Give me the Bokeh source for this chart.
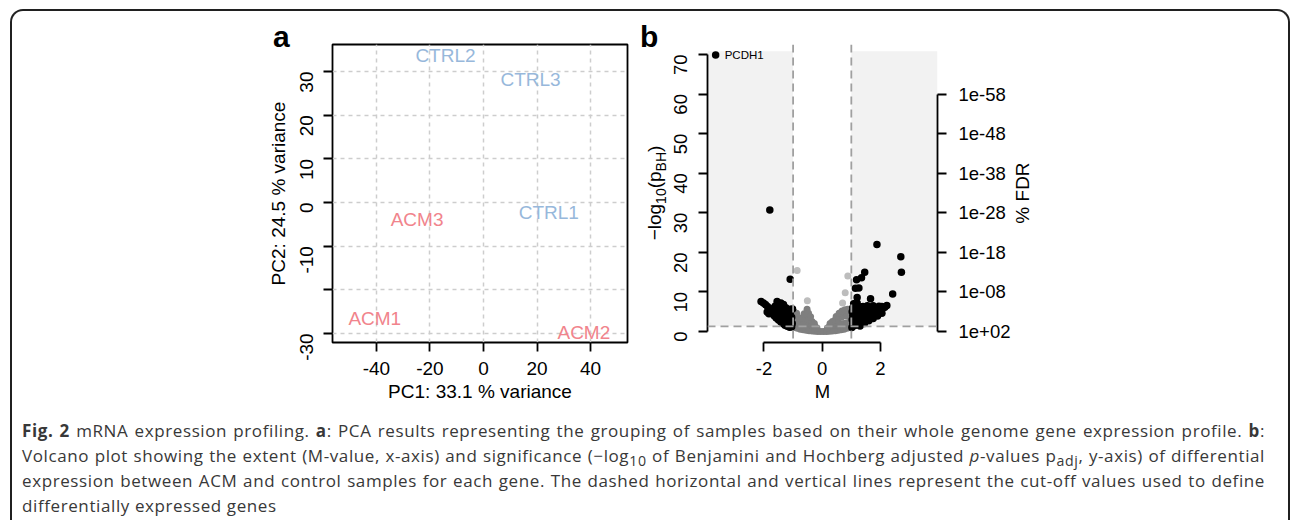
import math
from bokeh.plotting import figure
from bokeh.models import (ColumnDataSource, LinearAxis, FixedTicker, Span,
                          BoxAnnotation, Div)
from bokeh.layouts import row, column
from bokeh.embed import file_html
from bokeh.resources import INLINE
from bokeh.core.properties import value

# ---------------- data: panel a (PCA) ----------------
pca_samples = ["CTRL2", "CTRL3", "CTRL1", "ACM3", "ACM1", "ACM2"]
pca_group = ["CTRL", "CTRL", "CTRL", "ACM", "ACM", "ACM"]
pca_pc1 = [-14.2, 17.6, 24.4, -24.8, -40.6, 37.5]
pca_pc2 = [33.6, 28.1, -2.4, -3.9, -26.5, -29.9]
pca_x_ticks = [-40, -20, 0, 20, 40]
pca_y_ticks = [-30, -20, -10, 0, 10, 20, 30]
pca_y_hidden = [-20]          # label dropped by R (overlap)
pc1_var = 33.1
pc2_var = 24.5

# ---------------- data: panel b (volcano) ----------------
# differentially expressed genes (black)
de_m = [-3.66, -1.80, -1.10,
        -2.10, -2.02, -1.95, -1.88, -1.82, -1.76, -1.83, -1.72, -1.68, -1.62, -1.55,
        -1.50, -1.42, -1.33, -1.25, -1.10, -1.02, -1.65, -1.58, -1.50, -1.42, -1.35,
        -1.28, -1.20, -1.12, -1.05, -1.55, -1.45, -1.40, -1.35, -1.30, -1.25, -1.20,
        -1.18, -1.15, -1.10, -1.08, -1.05, -1.03, -1.50, -1.60, -1.45, -1.30, -1.15,
        -1.89,
        1.88, 2.70, 2.72, 1.46, 1.35, 1.18, 1.26, 1.14, 1.20, 1.66, 2.42, 2.22, 2.05,
        1.02, 1.05, 1.03, 1.05, 1.03, 1.05, 1.08, 1.12, 1.15, 1.15, 1.15, 1.15, 1.22,
        1.25, 1.25, 1.25, 1.30, 1.35, 1.35, 1.38, 1.45, 1.48, 1.50, 1.55, 1.60, 1.62,
        1.70, 1.72, 1.80, 1.85, 1.90, 1.95, 2.00, 2.08, 2.15, 1.75, 1.40, 1.55, 1.20,
        1.30, 1.45, 1.60, 1.75, 1.90, 2.05, 1.65, 1.85]
de_y = [69.9, 30.7, 13.2,
        7.6, 7.2, 6.8, 6.3, 5.8, 5.3, 4.5, 4.6, 5.8, 6.4, 7.6,
        6.9, 7.2, 6.8, 6.0, 5.6, 5.7, 4.0, 3.4, 2.9, 2.4, 2.0,
        1.6, 1.3, 1.1, 1.2, 5.0, 4.5, 5.5, 3.6, 4.6, 3.0, 5.0,
        2.2, 3.8, 4.6, 2.8, 3.6, 2.0, 6.0, 5.2, 3.4, 5.4, 1.8,
        4.9,
        22.0, 18.9, 15.0, 15.0, 13.6, 13.1, 11.0, 10.9, 8.6, 8.3, 9.5, 6.6, 6.3,
        1.0, 2.0, 3.0, 4.0, 5.0, 6.0, 7.0, 1.5, 2.6, 3.6, 4.6, 5.6, 2.0,
        3.1, 4.2, 5.3, 6.2, 2.6, 3.7, 4.8, 3.2, 4.3, 5.4, 3.6, 4.6, 5.7,
        4.1, 5.2, 4.5, 5.6, 5.0, 6.4, 5.3, 5.9, 6.1, 6.5, 6.3, 6.5, 7.2,
        1.4, 2.0, 2.7, 3.3, 3.9, 4.6, 3.5, 4.2]
# significant but small fold change (light grey)
mid_m = [-0.86, -0.51, 0.88, 0.79, 0.70]
mid_y = [15.4, 7.8, 14.0, 9.8, 7.2]
# not differentially expressed (grey)
ns_m = [-0.95, -0.85, -0.75, -0.65, -0.55, -0.45, -0.35, -0.25, -0.15, -0.05,
        0.05, 0.15, 0.25, 0.35, 0.45, 0.55, 0.65, 0.75, 0.85, 0.95,
        -0.95, -0.85, -0.75, -0.65, -0.55, -0.45, -0.35, -0.25, -0.18,
        0.18, 0.25, 0.35, 0.45, 0.55, 0.65, 0.75, 0.85, 0.95,
        -0.95, -0.85, -0.75, -0.65, -0.55, -0.45, -0.35, -0.27,
        0.27, 0.35, 0.45, 0.55, 0.65, 0.75, 0.85, 0.95,
        -0.97, -0.88, -0.62, -0.52, -0.47, -0.40,
        0.48, 0.58, 0.68, 0.78, 0.88, 0.96]
ns_y = [1.0, 0.8, 0.6, 0.45, 0.3, 0.2, 0.1, 0.05, 0.0, 0.0,
        0.0, 0.0, 0.05, 0.1, 0.2, 0.3, 0.45, 0.6, 0.8, 1.0,
        2.4, 2.2, 2.0, 1.9, 1.8, 1.7, 1.5, 1.3, 0.9,
        0.9, 1.3, 1.5, 1.7, 1.8, 1.9, 2.0, 2.2, 2.4,
        3.8, 3.6, 3.4, 3.3, 3.2, 3.0, 2.5, 2.0,
        2.0, 2.5, 3.0, 3.3, 3.6, 3.9, 4.0, 4.0,
        5.0, 4.6, 4.5, 5.6, 4.6, 3.7,
        3.8, 4.6, 5.2, 5.5, 5.6, 5.4]
top_gene = "PCDH1"
m_cutoff = 1.0
p_cutoff = 1.3          # -log10(0.05)
shade_top = 70.8
volc_x_ticks = [-2, 0, 2]
volc_y_ticks = [0, 10, 20, 30, 40, 50, 60, 70]
fdr_ticks = [0, 10, 20, 30, 40, 50, 60]
fdr_labels = ["1e+02", "1e-08", "1e-18", "1e-28", "1e-38", "1e-48", "1e-58"]

caption_lines = [
    "<b>Fig. 2</b> mRNA expression profiling. <b>a</b>: PCA results representing the grouping of samples based on their whole genome gene expression profile. <b>b</b>:",
    "Volcano plot showing the extent (M-value, x-axis) and significance (&minus;log<sub>10</sub> of Benjamini and Hochberg adjusted <i>p</i>-values p<sub>adj</sub>, y-axis) of differential",
    "expression between ACM and control samples for each gene. The dashed horizontal and vertical lines represent the cut-off values used to define",
    "differentially expressed genes",
]

FONT = "Liberation Sans"
COL = {"ACM": "#F1848C", "CTRL": "#97B8DB"}


def style_axis(ax, fs):
    ax.axis_line_color = "black"
    ax.axis_line_width = 1.8
    ax.major_tick_line_color = "black"
    ax.major_tick_line_width = 1.8
    ax.major_tick_out = 9
    ax.major_tick_in = 0
    ax.minor_tick_line_color = None
    ax.major_label_text_font = FONT
    ax.major_label_text_font_size = fs
    ax.major_label_text_color = "black"
    ax.axis_label_text_font = FONT
    ax.axis_label_text_font_size = fs
    ax.axis_label_text_font_style = "normal"
    ax.axis_label_text_color = "black"


def plain(ticks, hidden=()):
    return {t: ("" if t in hidden else str(t)) for t in ticks}


# ---------------- panel a ----------------
pa = figure(width=379, height=395, x_range=(-56.4, 53.8), y_range=(-32.1, 36.2),
            output_backend="svg", toolbar_location=None, margin=0,
            min_border_left=80, min_border_right=4, min_border_top=33, min_border_bottom=64,
            x_axis_label=f"PC1: {pc1_var} % variance",
            y_axis_label=f"PC2: {pc2_var} % variance")
pa.outline_line_color = "black"
pa.outline_line_width = 1.8
pa.xaxis.ticker = FixedTicker(ticks=pca_x_ticks)
pa.yaxis.ticker = FixedTicker(ticks=pca_y_ticks)
style_axis(pa.xaxis[0], "19px")
style_axis(pa.yaxis[0], "19px")
for ax in (pa.xaxis[0], pa.yaxis[0]):
    ax.axis_line_color = None
pa.xaxis.major_label_standoff = 10
pa.xaxis.axis_label_standoff = 3
pa.yaxis.major_label_standoff = 17
pa.yaxis.axis_label_standoff = 2
pa.xaxis.major_label_overrides = plain(pca_x_ticks)
pa.yaxis.major_label_overrides = plain(pca_y_ticks, pca_y_hidden)
pa.yaxis.major_label_orientation = math.pi / 2
pa.xgrid.ticker = FixedTicker(ticks=pca_x_ticks)
pa.ygrid.ticker = FixedTicker(ticks=pca_y_ticks)
for g in (pa.xgrid[0], pa.ygrid[0]):
    g.grid_line_color = "#CDCDCD"
    g.grid_line_dash = "4 4"
    g.grid_line_width = 1.5

src_a = ColumnDataSource(dict(x=pca_pc1, y=pca_pc2, t=pca_samples,
                              c=[COL[g] for g in pca_group]))
pa.text(x="x", y="y", text="t", source=src_a, text_color="c",
        text_align="center", text_baseline="middle",
        text_font=value(FONT), text_font_size="19px")

# ---------------- panel b ----------------
pb = figure(width=420, height=395, x_range=(-3.94, 3.96), y_range=(-2.78, 72.53),
            output_backend="svg", toolbar_location=None, margin=0,
            min_border_left=75, min_border_right=115, min_border_top=33, min_border_bottom=64,
            x_axis_label="M")
pb.outline_line_color = None
pb.grid.visible = False

pb.add_layout(BoxAnnotation(right=-m_cutoff, bottom=p_cutoff, top=shade_top,
                            fill_color="#F2F2F2", fill_alpha=1, line_color=None, level="underlay"))
pb.add_layout(BoxAnnotation(left=m_cutoff, bottom=p_cutoff, top=shade_top,
                            fill_color="#F2F2F2", fill_alpha=1, line_color=None, level="underlay"))
for xv in (-m_cutoff, m_cutoff):
    pb.add_layout(Span(location=xv, dimension="height", line_color="#A0A0A0",
                       line_dash="8 5", line_width=1.8))
pb.add_layout(Span(location=p_cutoff, dimension="width", line_color="#A0A0A0",
                   line_dash="8 5", line_width=1.8))

pb.scatter(ns_m, ns_y, size=7, color="#7F7F7F", line_color=None)
pb.scatter(mid_m, mid_y, size=7, color="#BDBDBD", line_color=None)
pb.scatter(de_m, de_y, size=7.5, color="black", line_color=None)
i_top = max(range(len(de_y)), key=lambda i: de_y[i])
pb.text(x=[de_m[i_top]], y=[de_y[i_top]], text=[top_gene], x_offset=9,
        text_align="left", text_baseline="middle",
        text_font=value(FONT), text_font_size="11.5px", text_color="black")

pb.xaxis.ticker = FixedTicker(ticks=volc_x_ticks)
pb.xaxis.bounds = (volc_x_ticks[0], volc_x_ticks[-1])
pb.yaxis.ticker = FixedTicker(ticks=volc_y_ticks)
pb.yaxis.bounds = (volc_y_ticks[0], volc_y_ticks[-1])
style_axis(pb.xaxis[0], "18.5px")
style_axis(pb.yaxis[0], "18.5px")
pb.xaxis.major_label_standoff = 10
pb.xaxis.axis_label_standoff = 3
pb.yaxis.major_label_standoff = 18
pb.xaxis.major_label_overrides = plain(volc_x_ticks)
pb.yaxis.major_label_orientation = math.pi / 2

rax = LinearAxis(ticker=FixedTicker(ticks=fdr_ticks), bounds=(fdr_ticks[0], fdr_ticks[-1]),
                 major_label_overrides={t: l for t, l in zip(fdr_ticks, fdr_labels)})
style_axis(rax, "18.5px")
rax.major_label_standoff = 12
pb.add_layout(rax, "right")

# ---------------- overlay texts (panel letters, rotated titles) ----------------
LETTER = ("position:absolute;font-family:'Liberation Sans',sans-serif;font-size:30px;"
          "font-weight:bold;line-height:30px;color:black;")
ROT = ("position:absolute;font-family:'Liberation Sans',sans-serif;font-size:19px;"
       "line-height:24px;height:24px;text-align:center;white-space:nowrap;color:black;"
       "transform:rotate(-90deg);")
OVL = {"position": "relative", "overflow": "visible", "z-index": "10"}

div_a = Div(text=f'<div style="{LETTER}left:261px;top:11px;">a</div>',
            width=240, height=395, margin=0, styles=OVL)
div_b = Div(text=(f'<div style="{LETTER}left:9px;top:11px;">b</div>'
                  f'<div style="{ROT}left:-31px;top:170px;width:110px;">&minus;log'
                  '<sub style="font-size:14px;">10</sub>(p<sub style="font-size:14px;">BH</sub>)</div>'),
            width=1, height=395, margin=0, styles=OVL)
div_fdr = Div(text=f'<div style="{ROT}left:-69px;top:170px;width:80px;">% FDR</div>',
              width=1, height=395, margin=0, styles=OVL)

# ---------------- caption ----------------
line_style = ("font-family:'Open Sans',sans-serif;font-size:17px;letter-spacing:0.6px;"
              "color:#383838;line-height:20px;height:20px;width:1243px;white-space:nowrap;"
              "display:block;")
html = ""
for i, ln in enumerate(caption_lines):
    last = i == len(caption_lines) - 1
    just = "text-align:left;" if last else "text-align:justify;text-align-last:justify;"
    mb = "" if last else "margin-bottom:5px;"
    html += f'<div style="{line_style}{just}{mb}">{ln}</div>'
cap = Div(text=html, width=1276, height=114, margin=0,
          styles={"padding": "15px 23px 0 10px", "box-sizing": "border-box"})

top = row(div_a, pa, div_b, pb, div_fdr, margin=0)
page = column(top, cap, margin=(9, 0, 0, 10),
              styles={"border": "2px solid #202020", "border-bottom": "none",
                      "border-radius": "13px 13px 0 0"})

open("out.html", "w").write(file_html(page, INLINE))
